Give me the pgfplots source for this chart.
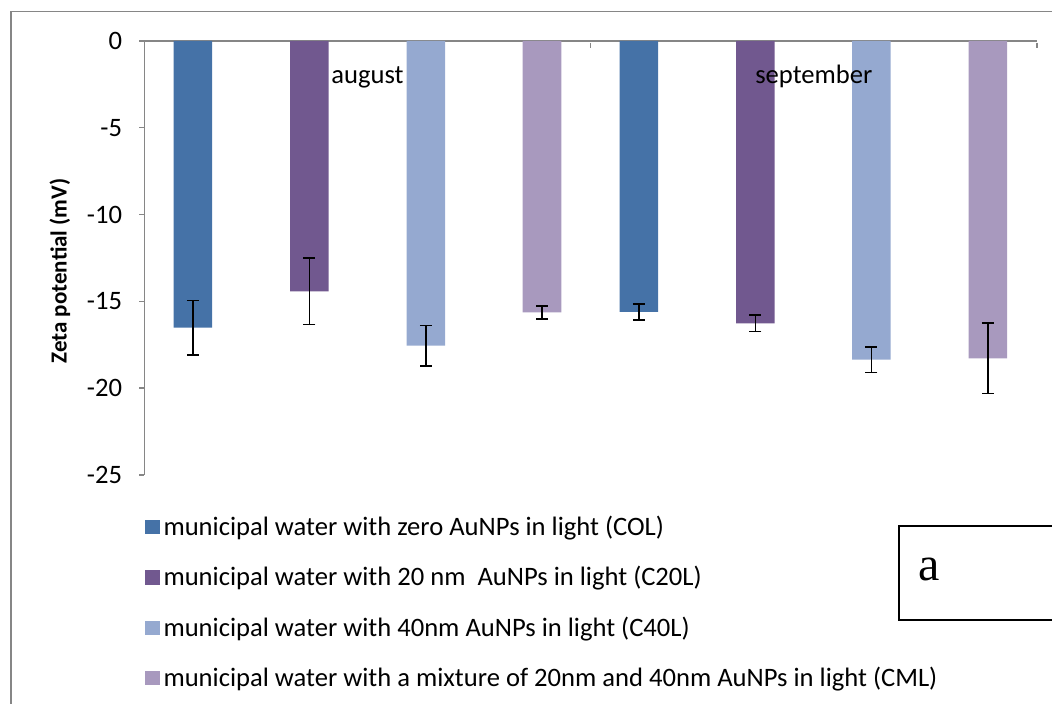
\documentclass[border=0pt]{standalone}
\usepackage{fontspec}
\setmainfont{Carlito}
\newfontfamily\timesfont{Liberation Serif}
\usepackage{pgfplots}
\pgfplotsset{compat=1.18}
\definecolor{cCOL}{HTML}{4572A7}
\definecolor{cC20L}{HTML}{71588F}
\definecolor{cC40L}{HTML}{95A9D0}
\definecolor{cCML}{HTML}{A899BE}
\definecolor{axisgray}{HTML}{868686}
\definecolor{framegray}{HTML}{868686}
\begin{document}
\begin{tikzpicture}
\begin{axis}[
  scale only axis, width=446.35pt, height=217pt,
  xmin=0, xmax=2, ymin=-25, ymax=0,
  axis x line=top, axis y line=left,
  axis line style={-, draw=axisgray, line width=0.7pt},
  xtick={0,1,2}, xticklabels={},
  ytick={-25,-20,-15,-10,-5,0},
  tick align=outside,
  major tick length=2.6pt,
  tick style={axisgray, line width=0.7pt},
  every major x tick/.append style={yshift=-3.5pt},
  /pgf/number format/assume math mode=true,
  yticklabel style={font=\fontsize{13.3}{15}\selectfont, text=black, xshift=-5pt},
  ylabel={Zeta potential (mV)},
  ylabel style={font=\bfseries\fontsize{11.5}{13}\selectfont, at={(axis description cs:-0.0944,0.47)}, anchor=center},
  legend style={at={(axis description cs:0,-0.0835)}, anchor=north west, draw=none, fill=none,
    font=\fontsize{13.3}{15}\selectfont, row sep=10pt, inner sep=0pt, cells={anchor=west}},
  legend image code/.code={\fill[#1] (0pt,-3.6pt) rectangle (7.4pt,3.6pt);},
  clip=false,
]
\addplot[ybar, bar width=0.0863, bar shift=0pt, fill=cCOL, draw=none,
  error bars/.cd, y dir=both, y explicit,
  error bar style={black, line width=0.8pt},
  error mark options={black, line width=0.8pt, mark size=3pt, rotate=90}]
  coordinates {(0.109,-16.51) +- (0,1.57) (1.108,-15.61) +- (0,0.46)};
\addplot[ybar, bar width=0.0863, bar shift=0pt, fill=cC20L, draw=none,
  error bars/.cd, y dir=both, y explicit,
  error bar style={black, line width=0.8pt},
  error mark options={black, line width=0.8pt, mark size=3pt, rotate=90}]
  coordinates {(0.370,-14.42) +- (0,1.91) (1.369,-16.26) +- (0,0.47)};
\addplot[ybar, bar width=0.0863, bar shift=0pt, fill=cC40L, draw=none,
  error bars/.cd, y dir=both, y explicit,
  error bar style={black, line width=0.8pt},
  error mark options={black, line width=0.8pt, mark size=3pt, rotate=90}]
  coordinates {(0.631,-17.55) +- (0,1.16) (1.629,-18.36) +- (0,0.74)};
\addplot[ybar, bar width=0.0863, bar shift=0pt, fill=cCML, draw=none,
  error bars/.cd, y dir=both, y explicit,
  error bar style={black, line width=0.8pt},
  error mark options={black, line width=0.8pt, mark size=3pt, rotate=90}]
  coordinates {(0.891,-15.63) +- (0,0.38) (1.890,-18.28) +- (0,2.03)};
\legend{municipal water with zero AuNPs in light (COL),
  municipal water with 20 nm\ \ AuNPs in light (C20L),
  municipal water with 40nm AuNPs in light (C40L),
  municipal water with a mixture of 20nm and 40nm AuNPs in light (CML)}
\node[anchor=base, inner sep=0pt, font=\fontsize{13.3}{15}\selectfont] at (axis cs:0.5,-2.42) {august};
\node[anchor=base, inner sep=0pt, font=\fontsize{13.3}{15}\selectfont] at (axis cs:1.5,-2.42) {september};
\end{axis}
\draw[framegray, line width=0.7pt] ([xshift=-66.65pt,yshift=-114.5pt]current axis.south west) -- ([xshift=-66.65pt,yshift=231.65pt]current axis.south west) -- ([xshift=453.85pt,yshift=231.65pt]current axis.south west);
\draw[black, line width=0.9pt] ([xshift=453.85pt,yshift=-25.5pt]current axis.south west) -- ([xshift=377.35pt,yshift=-25.5pt]current axis.south west) -- ([xshift=377.35pt,yshift=-72.5pt]current axis.south west) -- ([xshift=453.85pt,yshift=-72.5pt]current axis.south west);
\node[anchor=base west, inner sep=0pt, font=\timesfont\fontsize{24}{28}\selectfont] at ([xshift=386.8pt,yshift=-53pt]current axis.south west) {a};
\pgfresetboundingbox
\path[use as bounding box] ([xshift=-72.15pt,yshift=-114.5pt]current axis.south west) rectangle ([xshift=453.85pt,yshift=237.5pt]current axis.south west);
\end{tikzpicture}
\end{document}
